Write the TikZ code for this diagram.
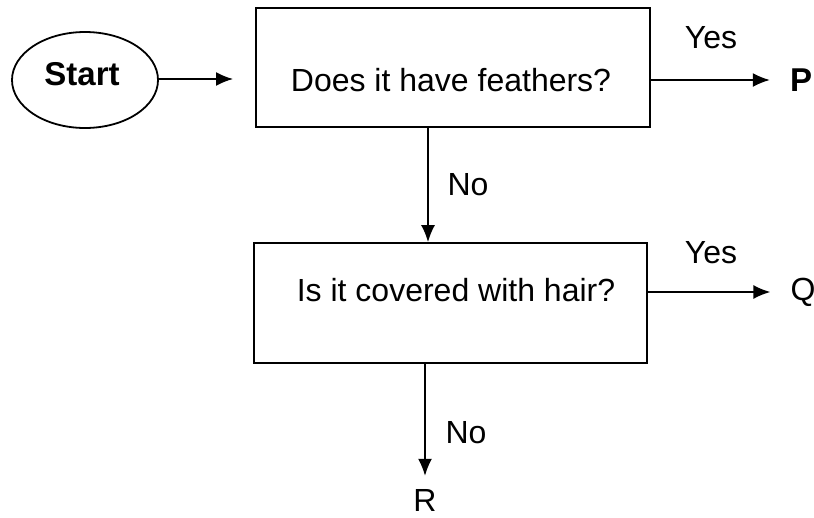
\documentclass[tikz,border=0pt]{standalone}
\usepackage{fontspec}
\setmainfont{Liberation Sans}
\usetikzlibrary{arrows.meta,shapes.geometric}
\begin{document}
\begin{tikzpicture}[x=1pt,y=-1pt,
  txt/.style={font=\fontsize{32}{37}\selectfont, inner sep=0pt},
  btxt/.style={font=\fontsize{33}{38}\selectfont\bfseries, inner sep=0pt},
  box/.style={draw, line width=1.8pt, inner sep=0pt},
  conn/.style={line width=1.6pt, -{Latex[length=17pt,width=14pt]}}]
\useasboundingbox (0,0) rectangle (814,517);
% start
\node[ellipse, draw, line width=1.8pt, minimum width=146pt, minimum height=96pt, inner sep=0pt] (start) at (85,80) {};
\node[btxt] (starttext) at (82,74) {Start};
% question boxes
\node[box, minimum width=394pt, minimum height=119pt] (q1) at (453,67.5) {};
\node[txt] (q1text) at (451,80) {Does it have feathers?};
\node[box, minimum width=393pt, minimum height=120pt] (q2) at (450.5,303) {};
\node[txt] (q2text) at (456,290) {Is it covered with hair?};
% outcomes
\node[btxt] (P) at (801,80) {P};
\node[txt] (Q) at (803,292) {Q};
\node[txt] (R) at (425,500) {R};
% labels
\node[txt] (yes1) at (711,38) {Yes};
\node[txt] (yes2) at (711,253) {Yes};
\node[txt] (no1) at (468,185) {No};
\node[txt] (no2) at (466,433) {No};
% connectors
\coordinate (a1) at (233,79);
\coordinate (d1) at (428,0);
\draw[conn] (start.east |- a1) -- (a1);
\draw[conn, shorten >=20pt] (q1.east |- P) -- (P.west);
\draw[conn] (q1.south -| d1) -- (q2.north -| d1);
\draw[conn, shorten >=20pt] (q2.east |- Q) -- (Q.west);
\draw[conn, shorten >=13pt] (q2.south -| R) -- (R.north);
\end{tikzpicture}
\end{document}
